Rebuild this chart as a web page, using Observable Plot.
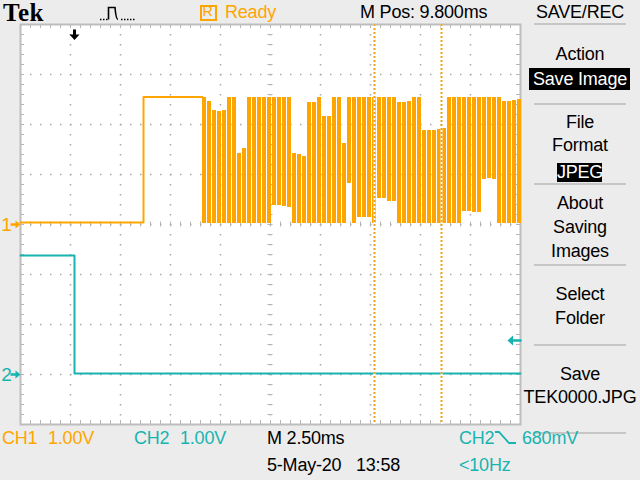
<!DOCTYPE html>
<html><head><meta charset="utf-8">
<script src="https://cdn.jsdelivr.net/npm/d3@7"></script>
<script src="https://cdn.jsdelivr.net/npm/@observablehq/plot@0.6"></script>
<style>
html,body{margin:0;padding:0;background:#ececec;}
#wrap{position:relative;width:640px;height:480px;overflow:hidden;background:#ececec;}
#wrap svg{position:absolute;left:0;top:0;}
</style>
</head><body><div id="wrap"></div>
<script>
// ---- scope settings ----
const timePerDiv = 2.5;          // ms/div
const hPos = 9.8;                // ms (M Pos)
const ch1VoltsPerDiv = 1.0, ch2VoltsPerDiv = 1.0;
const ch1Offset = 0, ch2Offset = -3;   // ground marker position, divisions
const triggerTime = 0;           // ms
const triggerLevel = 0.68;       // V on CH2
const cursorTimes = [15.0, 18.35]; // ms

// ---- CH1 (orange) ----
const ch1Time  = [-2.7, 3.45, 3.45, 6.4];
const ch1Volts = [0.04, 0.04, 2.55, 2.55];
// CH1 burst, displayed as min/max columns
const burstStart = 6.4, burstStep = 0.25, burstWidth = 0.2; // ms
const burstHigh = [2.55,2.46,2.28,2.26,2.28,2.55,2.55,1.42,1.52,2.55,
                   2.55,2.55,2.55,2.55,2.55,2.55,2.55,2.55,1.42,1.40,
                   1.36,2.44,2.44,2.55,2.16,2.16,2.55,2.55,1.62,2.55,
                   2.55,2.55,2.55,2.55,2.55,2.55,2.55,2.55,2.55,2.44,
                   2.44,2.46,2.55,2.55,1.88,1.88,1.88,1.90,1.92,2.55,
                   2.55,2.55,2.55,2.55,2.55,2.55,2.55,2.55,2.55,2.55,
                   2.46,2.46,2.48,2.50];
const burstLow  = [0.02,0.02,0.02,0.02,0.02,0.02,0.02,0.02,0.02,0.02,
                   0.02,0.02,0.02,0.02,0.38,0.38,0.36,0.34,0.02,0.02,
                   0.02,0.02,0.02,0.02,0.02,0.02,0.02,0.02,0.02,0.82,
                   0.02,0.14,0.14,0.14,0.02,0.52,0.52,0.46,0.46,0.02,
                   0.02,0.02,0.02,0.02,0.02,0.02,0.02,0.02,0.02,0.02,
                   0.02,0.02,0.26,0.26,0.24,0.24,0.90,0.92,0.90,0.02,
                   0.02,0.02,0.02,0.02];

// ---- CH2 (cyan) ----
const ch2Time  = [-2.7, 0, 0, 22.3];
const ch2Volts = [2.38, 2.38, 0.02, 0.02];

// ---- colours ----
const orange = "#ffa500";
const cyan = "#17b4b0";
const gridColor = "#a9a9a9";

// ---- derived tables ----
const xDomain = [hPos - 5 * timePerDiv, hPos + 5 * timePerDiv];
const ch1 = ch1Time.map((t, i) => ({t, y: ch1Volts[i] / ch1VoltsPerDiv + ch1Offset}));
const ch2 = ch2Time.map((t, i) => ({t, y: ch2Volts[i] / ch2VoltsPerDiv + ch2Offset}));
const burst = burstHigh.map((h, i) => ({
  t1: burstStart + i * burstStep, t2: burstStart + i * burstStep + burstWidth,
  y1: burstLow[i] / ch1VoltsPerDiv + ch1Offset, y2: h / ch1VoltsPerDiv + ch1Offset
}));
const gridT = d3.range(1, 10).map(k => xDomain[0] + k * timePerDiv);
const gridY = d3.range(-3, 4);
const minorT = d3.range(0, 51).map(k => xDomain[0] + k * timePerDiv / 5);
const minorY = d3.range(-20, 21).map(k => k / 5);
const dx4 = timePerDiv * 0.08, dy4 = 0.08;

// custom marker symbols
const arrowRight = {draw(c) { c.moveTo(-10,-1.2); c.lineTo(-5,-1.2); c.lineTo(-5,-4); c.lineTo(0,0); c.lineTo(-5,4); c.lineTo(-5,1.2); c.lineTo(-10,1.2); c.closePath(); }};
const arrowLeft  = {draw(c) { c.moveTo(-13,0); c.lineTo(-7.5,-5); c.lineTo(-7.5,-1.3); c.lineTo(1,-1.3); c.lineTo(1,1.3); c.lineTo(-7.5,1.3); c.lineTo(-7.5,5); c.closePath(); }};
const arrowDown  = {draw(c) { c.moveTo(-1.5,5); c.lineTo(1.5,5); c.lineTo(1.5,10); c.lineTo(5,10); c.lineTo(0,15.5); c.lineTo(-5,10); c.lineTo(-1.5,10); c.closePath(); }};

const chart = Plot.plot({
  width: 640, height: 480,
  marginLeft: 20, marginRight: 120, marginTop: 24, marginBottom: 56,
  x: {domain: xDomain, axis: null},
  y: {domain: [-4, 4], axis: null},
  style: {background: "transparent", overflow: "visible"},
  marks: [
    Plot.frame({fill: "white"}),
    Plot.ruleX(gridT, {stroke: gridColor, strokeWidth: 1.5, strokeDasharray: "1.5,8.5"}),
    Plot.ruleY(gridY, {stroke: gridColor, strokeWidth: 1.5, strokeDasharray: "1.5,8.5"}),
    // minor ticks on border and centre lines
    Plot.ruleX(minorT, {y1: 4, y2: 4 - dy4, stroke: "#b5b5b5"}),
    Plot.ruleX(minorT, {y1: -4, y2: -4 + dy4, stroke: "#b5b5b5"}),
    Plot.ruleX(minorT, {y1: -0.05, y2: 0.05, stroke: "#b5b5b5"}),
    Plot.ruleY(minorY, {x1: xDomain[0], x2: xDomain[0] + dx4, stroke: "#b5b5b5"}),
    Plot.ruleY(minorY, {x1: xDomain[1], x2: xDomain[1] - dx4, stroke: "#b5b5b5"}),
    Plot.ruleY(minorY, {x1: hPos - 0.125, x2: hPos + 0.125, stroke: "#b5b5b5"}),
    Plot.frame({stroke: "#bdbdbd", strokeWidth: 2}),
    // CH1
    Plot.line(ch1, {x: "t", y: "y", stroke: orange, strokeWidth: 2}),
    Plot.rect(burst, {x1: "t1", x2: "t2", y1: "y1", y2: "y2", fill: orange, shapeRendering: "crispEdges"}),
    // CH2
    Plot.line(ch2, {x: "t", y: "y", stroke: cyan, strokeWidth: 2}),
    // cursors
    Plot.ruleX(cursorTimes, {stroke: "white", strokeWidth: 2}),
    Plot.ruleX(cursorTimes, {stroke: "#f0a020", strokeWidth: 2, strokeDasharray: "2,2"}),
    // markers
    Plot.dot([ch1Offset], {x: () => xDomain[0], y: d => d, symbol: arrowRight, fill: orange, stroke: null}),
    Plot.dot([ch2Offset], {x: () => xDomain[0], y: d => d, symbol: arrowRight, fill: cyan, stroke: null}),
    Plot.text([ch1Offset], {x: () => xDomain[0], y: d => d, text: () => "1", dx: -14, fill: orange, fontSize: 19, fontFamily: "Liberation Sans, Arial, sans-serif"}),
    Plot.text([ch2Offset], {x: () => xDomain[0], y: d => d, text: () => "2", dx: -14, fill: cyan, fontSize: 19, fontFamily: "Liberation Sans, Arial, sans-serif"}),
    Plot.dot([triggerLevel / ch2VoltsPerDiv + ch2Offset], {x: () => xDomain[1], y: d => d, symbol: arrowLeft, fill: cyan, stroke: null}),
    Plot.dot([triggerTime], {x: d => d, y: () => 4, symbol: arrowDown, fill: "black", stroke: null})
  ]
});
const wrap = document.getElementById("wrap");
wrap.appendChild(chart);

// ---- on-screen labels ----
const SANS = '"Liberation Sans", Arial, sans-serif';
function lbl(text, x, base, opt = {}) {
  const size = opt.size || 18;
  const d = document.createElement("div");
  d.textContent = text;
  const sp = opt.spacing !== undefined ? opt.spacing : -0.2;
  d.style.cssText = `position:absolute;white-space:pre;line-height:1;font-size:${size}px;` +
    `color:${opt.color || "#000"};font-family:${opt.family || SANS};font-weight:${opt.weight || "normal"};` +
    `top:${base - size * 0.846}px;left:${x}px;letter-spacing:${sp}px;` + (opt.anchor === "middle" ? "transform:translateX(-50%);" : "");
  wrap.appendChild(d);
  return d;
}
function box(x, y, w, h, css) {
  const d = document.createElement("div");
  d.style.cssText = `position:absolute;left:${x}px;top:${y}px;width:${w}px;height:${h}px;` + css;
  wrap.appendChild(d);
  return d;
}
function svgIcon(x, y, w, h, path, color, width) {
  const ns = "http://www.w3.org/2000/svg";
  const s = document.createElementNS(ns, "svg");
  s.setAttribute("width", w); s.setAttribute("height", h);
  s.style.cssText = `position:absolute;left:${x}px;top:${y}px;`;
  const p = document.createElementNS(ns, "path");
  p.setAttribute("d", path); p.setAttribute("fill", "none");
  p.setAttribute("stroke", color); p.setAttribute("stroke-width", width);
  s.appendChild(p); wrap.appendChild(s);
}

// header
lbl("Tek", 3, 21, {size: 25, weight: "bold", family: '"Liberation Serif", "Times New Roman", serif', spacing: 0.5});
svgIcon(98, 4, 42, 18, "M2,15.5h1.5M5,15.5h1.5M8,15.5h1.5M10.5,15.5V3.5H17Q18,15.5 20,15.5M23,15.5h1.5M26,15.5h1.5M29,15.5h1.5M32,15.5h1.5M35,15.5h1.5", "#000", 1.6);
box(200, 5, 13, 12, `border:2px solid ${orange};`);
lbl("R", 202.5, 16, {size: 14, color: orange, spacing: 0});
lbl("Ready", 225, 18, {color: orange});
lbl("M Pos: 9.800ms", 360, 18);
lbl("SAVE/REC", 580, 18, {anchor: "middle"});

// right menu
const sepYs = [23, 103, 183, 264, 344, 432];
sepYs.forEach(y => box(534, y, 92, 2, "background:#c6c6c6;"));
lbl("Action", 580, 60, {anchor: "middle"});
box(529, 68, 101, 22, "background:#000;");
lbl("Save Image", 580, 85, {anchor: "middle", color: "#fff"});
lbl("File", 580, 128, {anchor: "middle"});
lbl("Format", 580, 151, {anchor: "middle"});
box(557, 163, 45, 19, "background:#000;");
lbl("JPEG", 580, 178, {anchor: "middle", color: "#fff"});
lbl("About", 580, 209, {anchor: "middle"});
lbl("Saving", 580, 233, {anchor: "middle"});
lbl("Images", 580, 257, {anchor: "middle"});
lbl("Select", 580, 300, {anchor: "middle"});
lbl("Folder", 580, 324, {anchor: "middle"});
lbl("Save", 580, 380, {anchor: "middle"});
lbl("TEK0000.JPG", 580, 403, {anchor: "middle"});

// footer
lbl("CH1", 2, 444, {color: orange});
lbl("1.00V", 48, 444, {color: orange});
lbl("CH2", 134, 444, {color: cyan});
lbl("1.00V", 180, 444, {color: cyan});
lbl("M 2.50ms", 267, 444);
lbl("CH2", 459, 444, {color: cyan});
svgIcon(494, 430, 26, 16, "M1,2H5L15,13H22", cyan, 1.8);
lbl("680mV", 522, 444, {color: cyan});
lbl("5-May-20", 267, 471);
lbl("13:58", 356, 471);
lbl("<10Hz", 459, 471, {color: cyan});
</script>
</body></html>
